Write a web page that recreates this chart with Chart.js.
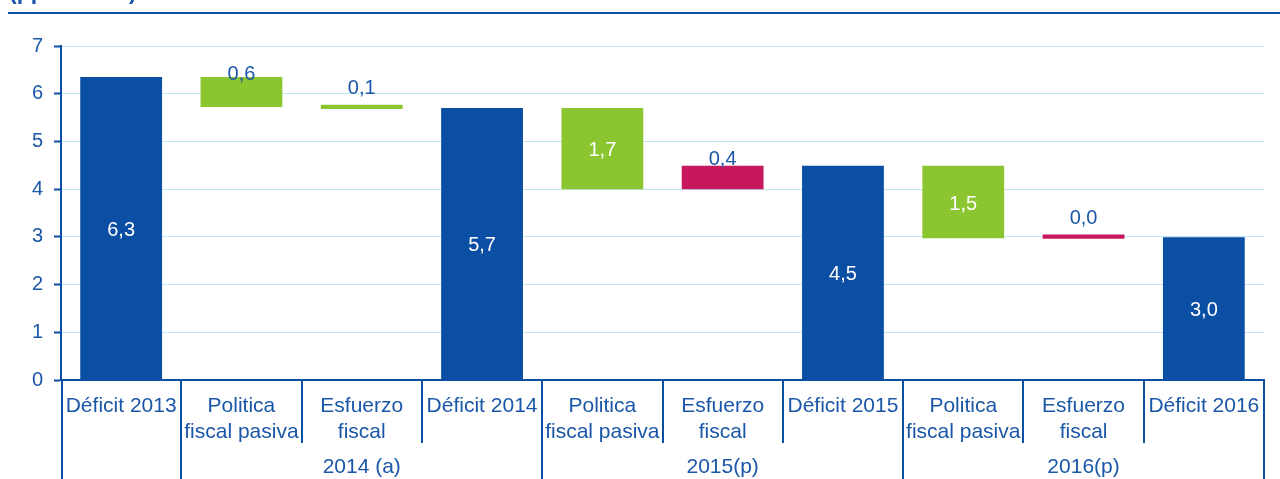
<!DOCTYPE html>
<html>
<head>
<meta charset="utf-8">
<script src="https://cdn.jsdelivr.net/npm/chart.js@4/dist/chart.umd.min.js"></script>
<style>
  html, body { margin: 0; padding: 0; background: #fff; }
  #wrap { width: 1280px; height: 479px; position: relative; }
</style>
</head>
<body>
<div id="wrap"><canvas id="myChart"></canvas></div>
<script>
// categories and groups
var cats = ['Déficit 2013', ['Politica', 'fiscal pasiva'], ['Esfuerzo', 'fiscal'],
            'Déficit 2014', ['Politica', 'fiscal pasiva'], ['Esfuerzo', 'fiscal'],
            'Déficit 2015', ['Politica', 'fiscal pasiva'], ['Esfuerzo', 'fiscal'],
            'Déficit 2016'];
var groups = ['2014 (a)', '2015(p)', '2016(p)'];
var groupStart = [1, 4, 7];   // first category index of each group
var groupEnd = [3, 6, 9];     // last category index of each group

// floating bars: bottom and top of each bar (pp)
var barLow  = [0,    5.72, 5.68, 0,   4.00, 4.00, 0,    2.97, 2.96, 0];
var barHigh = [6.35, 6.35, 5.77, 5.7, 5.70, 4.49, 4.49, 4.49, 3.05, 2.99];
// values shown on the bars
var shown = [6.3, 0.6, 0.1, 5.7, 1.7, 0.4, 4.5, 1.5, 0.0, 3.0];
var kind = ['d', 'g', 'g', 'd', 'g', 'm', 'd', 'g', 'm', 'd'];

var yTicks = [0, 1, 2, 3, 4, 5, 6, 7];

var BLUE = '#0a4fa3';
var TXT = '#1a57a8';
var GREEN = '#8bc631';
var MAG = '#c8185d';
var FONT = "'Liberation Sans', Arial, sans-serif";

var colorOf = { d: BLUE, g: GREEN, m: MAG };

var floating = [];
for (var i = 0; i < barLow.length; i++) floating.push([barLow[i], barHigh[i]]);

var extras = {
  id: 'extras',
  afterDraw: function(chart) {
    var c = chart.ctx;
    var xs = chart.scales.x;
    var area = chart.chartArea;
    var H = chart.height;
    c.save();

    // title strip at top (cut off)
    c.fillStyle = TXT;
    c.font = 'bold 23px ' + FONT;
    c.textAlign = 'left';
    c.textBaseline = 'alphabetic';
    c.fillText('(pp del PIB)', 9, -1);
    c.fillStyle = BLUE;
    c.fillRect(8, 12, 1272, 2);

    // bar value labels
    var meta = chart.getDatasetMeta(0);
    meta.data.forEach(function(bar, i) {
      var top = Math.min(bar.y, bar.base);
      var bot = Math.max(bar.y, bar.base);
      var mid = (top + bot) / 2;
      c.font = '20px ' + FONT;
      c.textAlign = 'center';
      c.textBaseline = 'middle';
      var txt = shown[i].toFixed(1).replace('.', ',');
      if (bot - top > 40) {
        c.fillStyle = '#ffffff';
        c.fillText(txt, bar.x, mid + 2);
      } else {
        c.fillStyle = TXT;
        c.fillText(txt, bar.x, mid - 18);
      }
    });

    // category separators below the axis
    var n = cats.length;
    var bounds = [];
    for (var k = 0; k <= n; k++) {
      if (k === 0) bounds.push(xs.left);
      else if (k === n) bounds.push(xs.right);
      else bounds.push((xs.getPixelForValue(k - 1) + xs.getPixelForValue(k)) / 2);
    }
    var longs = [0, n];
    groupStart.forEach(function(g) { longs.push(g); });
    groupEnd.forEach(function(g) { longs.push(g + 1); });
    c.strokeStyle = BLUE;
    c.lineWidth = 2;
    for (var k = 0; k <= n; k++) {
      var isLong = longs.indexOf(k) >= 0;
      var bx = Math.round(bounds[k]) + (k === 0 ? 1 : 0);
      c.beginPath();
      c.moveTo(bx, area.bottom);
      c.lineTo(bx, isLong ? H : 443);
      c.stroke();
    }

    // group labels
    c.fillStyle = TXT;
    c.font = '21px ' + FONT;
    c.textAlign = 'center';
    c.textBaseline = 'middle';
    groups.forEach(function(g, j) {
      var gx = (bounds[groupStart[j]] + bounds[groupEnd[j] + 1]) / 2;
      c.fillText(g, gx, 467);
    });
    c.restore();
  }
};

var ctx = document.getElementById('myChart').getContext('2d');
var chart = new Chart(ctx, {
  type: 'bar',
  data: {
    labels: cats,
    datasets: [{
      data: floating,
      backgroundColor: kind.map(function(k) { return colorOf[k]; }),
      borderWidth: 0,
      borderSkipped: false,
      barPercentage: 0.68,
      categoryPercentage: 1.0
    }]
  },
  options: {
    responsive: true,
    maintainAspectRatio: false,
    animation: false,
    layout: { padding: { top: 46, right: 16, left: 0, bottom: 0 } },
    plugins: {
      legend: { display: false },
      tooltip: { enabled: false }
    },
    scales: {
      x: {
        offset: true,
        grid: { display: false, drawTicks: false },
        border: { color: BLUE, width: 2 },
        ticks: {
          color: TXT,
          font: { family: FONT, size: 21, lineHeight: 1.25 },
          padding: 13,
          maxRotation: 0,
          autoSkip: false
        },
        afterFit: function(s) { s.height = 99; }
      },
      y: {
        min: 0,
        max: 7,
        afterBuildTicks: function(s) { s.ticks = yTicks.map(function(v) { return { value: v }; }); },
        grid: { color: '#bfe5f6', lineWidth: 1, tickColor: BLUE, tickLength: 7, tickWidth: 2 },
        border: { color: BLUE, width: 2 },
        ticks: {
          color: TXT,
          font: { family: FONT, size: 20 },
          padding: 11
        },
        afterFit: function(s) { s.width = 61; }
      }
    }
  },
  plugins: [extras]
});
</script>
</body>
</html>
